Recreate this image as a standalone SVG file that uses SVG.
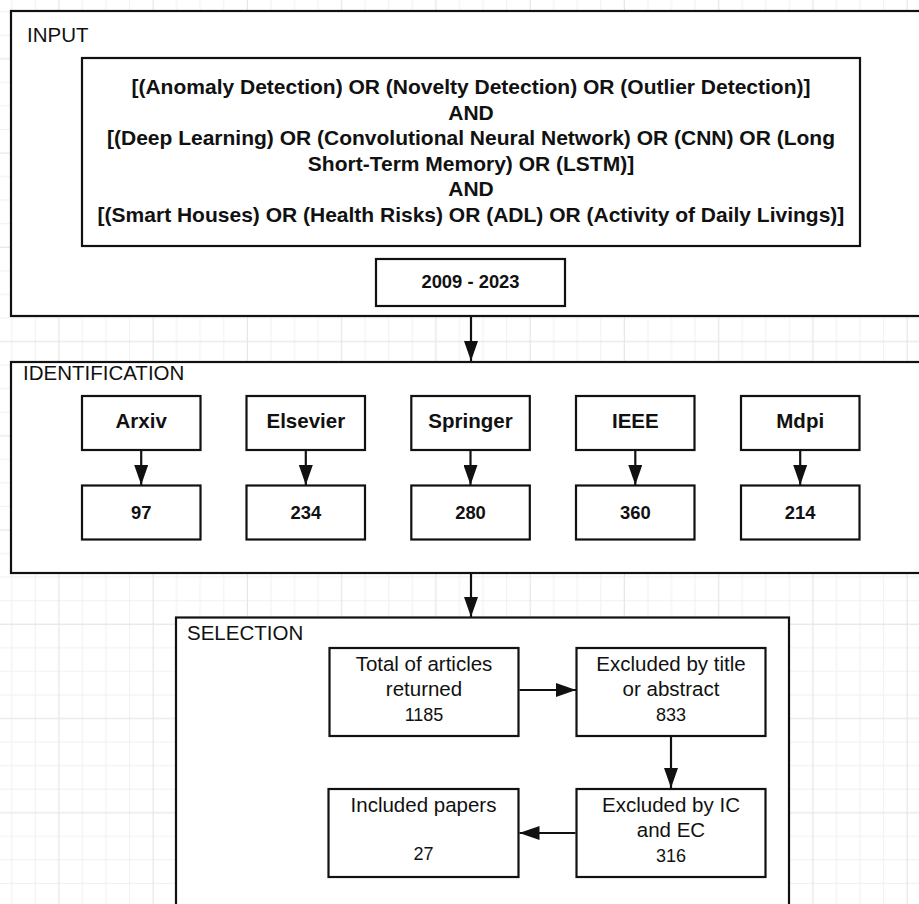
<svg xmlns="http://www.w3.org/2000/svg" width="919" height="904" viewBox="0 0 919 904">
<style>
.box{fill:#fff;stroke:#111;stroke-width:2.2}
.sec{font-family:"Liberation Sans",Arial,sans-serif;font-size:20.5px;fill:#111}
.q{font-family:"Liberation Sans",Arial,sans-serif;font-size:21px;font-weight:bold;fill:#111;text-anchor:middle}
.nm{font-family:"Liberation Sans",Arial,sans-serif;font-size:20.5px;font-weight:bold;fill:#111;text-anchor:middle}
.num{font-family:"Liberation Sans",Arial,sans-serif;font-size:18.4px;font-weight:bold;fill:#111;text-anchor:middle}
.lb{font-family:"Liberation Sans",Arial,sans-serif;font-size:20.5px;fill:#111;text-anchor:middle}
.ln{font-family:"Liberation Sans",Arial,sans-serif;font-size:18px;fill:#111;text-anchor:middle}
.edge{stroke:#111;stroke-width:2.2;fill:none;marker-end:url(#ah)}
</style>
<defs>
<pattern id="grid" patternUnits="userSpaceOnUse" x="0" y="0" width="94.25" height="94.25">
<rect width="94.25" height="94.25" fill="#fff"/>
<g fill="#f1f1f1">
<rect x="11.2" y="0" width="1" height="94.25"/>
<rect x="34.8" y="0" width="1" height="94.25"/>
<rect x="81.9" y="0" width="1" height="94.25"/>
<rect x="0" y="11.1" width="94.25" height="1"/>
<rect x="0" y="34.7" width="94.25" height="1"/>
<rect x="0" y="81.8" width="94.25" height="1"/>
</g>
<g fill="#e6e6e6">
<rect x="58.3" y="0" width="1.2" height="94.25"/>
<rect x="0" y="58.2" width="94.25" height="1.2"/>
</g>
</pattern>
<marker id="ah" markerUnits="userSpaceOnUse" markerWidth="20" markerHeight="14" refX="20" refY="7" orient="auto">
<path d="M0,0 L20,7 L0,14 Z" fill="#111"/>
</marker>
</defs>
<rect width="919" height="904" fill="url(#grid)"/>

<g id="input">
<rect class="box" x="11" y="11" width="930" height="305"/>
<text class="sec" x="27" y="42">INPUT</text>
</g>
<g id="query">
<rect class="box" x="82" y="58" width="778" height="188"/>
<text class="q" x="471" y="94">[(Anomaly Detection) OR (Novelty Detection) OR (Outlier Detection)]</text>
<text class="q" x="471" y="119.5">AND</text>
<text class="q" x="471" y="145">[(Deep Learning) OR (Convolutional Neural Network) OR (CNN) OR (Long</text>
<text class="q" x="471" y="170.5">Short-Term Memory) OR (LSTM)]</text>
<text class="q" x="471" y="196">AND</text>
<text class="q" x="471" y="221.5">[(Smart Houses) OR (Health Risks) OR (ADL) OR (Activity of Daily Livings)]</text>
</g>
<g id="years">
<rect class="box" x="376" y="259" width="189" height="47"/>
<text class="num" x="470.5" y="288">2009 - 2023</text>
</g>

<g id="identification">
<rect class="box" x="11" y="362" width="930" height="211"/>
<text class="sec" x="23" y="380">IDENTIFICATION</text>
</g>
<g id="arxiv"><rect class="box" x="82" y="396" width="118.5" height="54"/><text class="nm" x="141.2" y="428">Arxiv</text></g>
<g id="elsevier"><rect class="box" x="246.5" y="396" width="118.5" height="54"/><text class="nm" x="305.8" y="428">Elsevier</text></g>
<g id="springer"><rect class="box" x="411.3" y="396" width="118.5" height="54"/><text class="nm" x="470.5" y="428">Springer</text></g>
<g id="ieee"><rect class="box" x="576" y="396" width="118.5" height="54"/><text class="nm" x="635.3" y="428">IEEE</text></g>
<g id="mdpi"><rect class="box" x="741" y="396" width="118.5" height="54"/><text class="nm" x="800.2" y="428">Mdpi</text></g>
<g id="n97"><rect class="box" x="82" y="485.5" width="118.5" height="54"/><text class="num" x="141.2" y="518.5">97</text></g>
<g id="n234"><rect class="box" x="246.5" y="485.5" width="118.5" height="54"/><text class="num" x="305.8" y="518.5">234</text></g>
<g id="n280"><rect class="box" x="411.3" y="485.5" width="118.5" height="54"/><text class="num" x="470.5" y="518.5">280</text></g>
<g id="n360"><rect class="box" x="576" y="485.5" width="118.5" height="54"/><text class="num" x="635.3" y="518.5">360</text></g>
<g id="n214"><rect class="box" x="741" y="485.5" width="118.5" height="54"/><text class="num" x="800.2" y="518.5">214</text></g>

<g id="selection">
<rect class="box" x="176" y="617.5" width="613" height="300"/>
<text class="sec" x="187" y="640">SELECTION</text>
</g>
<g id="total">
<rect class="box" x="329.5" y="648" width="189" height="88"/>
<text class="lb" x="424" y="670.5">Total of articles</text>
<text class="lb" x="424" y="695.5">returned</text>
<text class="ln" x="424" y="720.5">1185</text>
</g>
<g id="excl-title">
<rect class="box" x="576.5" y="648" width="189" height="88"/>
<text class="lb" x="671" y="670.5">Excluded by title</text>
<text class="lb" x="671" y="695.5">or abstract</text>
<text class="ln" x="671" y="720.5">833</text>
</g>
<g id="excl-ic">
<rect class="box" x="576.5" y="789" width="189" height="88"/>
<text class="lb" x="671" y="811.5">Excluded by IC</text>
<text class="lb" x="671" y="836.5">and EC</text>
<text class="ln" x="671" y="861.5">316</text>
</g>
<g id="included">
<rect class="box" x="328.5" y="789" width="190" height="88"/>
<text class="lb" x="423.5" y="811.5">Included papers</text>
<text class="ln" x="423.5" y="859.5">27</text>
</g>

<g id="connectors">
<line class="edge" x1="471" y1="317" x2="471" y2="361"/>
<line class="edge" x1="471" y1="574" x2="471" y2="617"/>
<line class="edge" x1="141.2" y1="451" x2="141.2" y2="485"/>
<line class="edge" x1="305.8" y1="451" x2="305.8" y2="485"/>
<line class="edge" x1="470.5" y1="451" x2="470.5" y2="485"/>
<line class="edge" x1="635.3" y1="451" x2="635.3" y2="485"/>
<line class="edge" x1="800.2" y1="451" x2="800.2" y2="485"/>
<line class="edge" x1="519.5" y1="690" x2="576" y2="690"/>
<line class="edge" x1="671" y1="737" x2="671" y2="788"/>
<line class="edge" x1="575.5" y1="833" x2="519.5" y2="833"/>
</g>
</svg>
